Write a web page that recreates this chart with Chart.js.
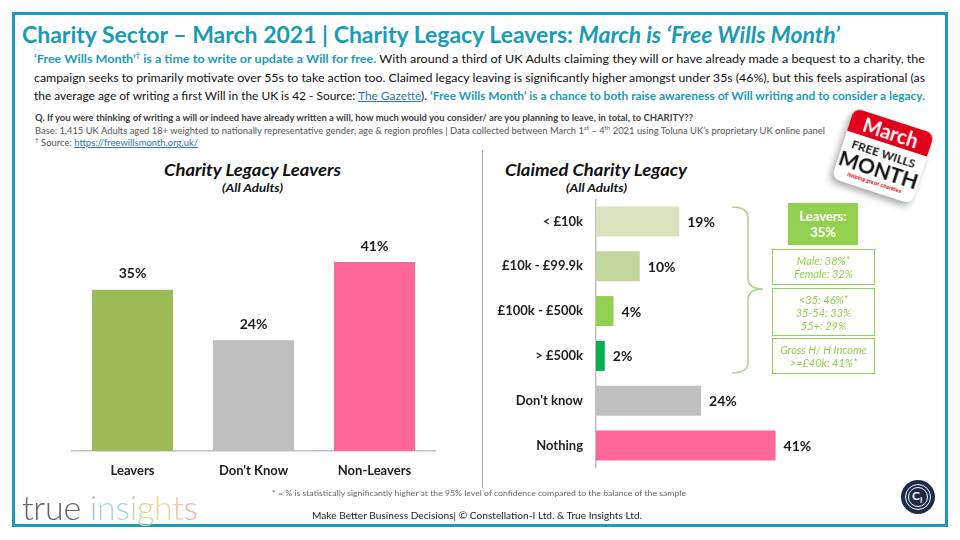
<!DOCTYPE html>
<html>
<head>
<meta charset="utf-8">
<script src="https://cdn.jsdelivr.net/npm/chart.js@4"></script>
<style>
  body { margin: 0; width: 960px; height: 540px; background: #fff; overflow: hidden; font-family: Lato, sans-serif; }
  .abs { position: absolute; white-space: nowrap; }
  .ln { font-size: 0; line-height: 1; }
  .fit { display: inline-block; transform-origin: 0 50%; }
  .teal { color: #1A9BB5; font-weight: bold; }
  #frame { position: absolute; left: 12px; top: 12px; width: 930px; height: 509px; border: 3px solid #1A9CBA; }
  .box { position: absolute; border: 1px solid #92D050; color: #92D050; font: italic 11px Lato; text-align: center; line-height: 13px; box-sizing: border-box; }
</style>
</head>
<body>
<div id="frame"></div>

<div class="abs ln" style="left:22px;top:21px;"><span class="fit" data-w="818" style="font:bold 22px Lato;color:#1A9BB5;">Charity Sector – March 2021 | Charity Legacy Leavers: <i>March is ‘Free Wills Month’</i></span></div>

<div class="abs ln" style="left:34px;top:51px;"><span class="fit" data-w="891" style="font:12px Lato;color:#111;"><span class="teal">‘Free Wills Month’<sup style="font-size:7px">†</sup> is a time to write or update a Will for free.</span> With around a third of UK Adults claiming they will or have already made a bequest to a charity, the</span></div>
<div class="abs ln" style="left:34px;top:70px;"><span class="fit" data-w="891" style="font:12px Lato;color:#111;">campaign seeks to primarily motivate over 55s to take action too. Claimed legacy leaving is significantly higher amongst under 35s (46%), but this feels aspirational (as</span></div>
<div class="abs ln" style="left:34px;top:88px;"><span class="fit" data-w="891" style="font:12px Lato;color:#111;">the average age of writing a first Will in the UK is 42 - Source: <span style="color:#2E75B6;text-decoration:underline">The Gazette</span>). <span class="teal">‘Free Wills Month’ is a chance to both raise awareness of Will writing and to consider a legacy.</span></span></div>

<div class="abs ln" style="left:35px;top:112px;"><span class="fit" data-w="658" style="font:bold 9px Lato;color:#404040;">Q. If you were thinking of writing a will or indeed have already written a will, how much would you consider/ are you planning to leave, in total, to CHARITY??</span></div>
<div class="abs ln" style="left:35px;top:124px;"><span class="fit" data-w="790" style="font:9px Lato;color:#555;">Base: 1,415 UK Adults aged 18+ weighted to nationally representative gender, age &amp; region profiles | Data collected between March 1<sup style="font-size:6px">st</sup> – 4<sup style="font-size:6px">th</sup> 2021 using Toluna UK’s proprietary UK online panel</span></div>
<div class="abs ln" style="left:35px;top:136px;"><span class="fit" data-w="163" style="font:9px Lato;color:#555;"><sup style="font-size:6px">†</sup> Source: <span style="color:#2E75B6;text-decoration:underline">https://freewillsmonth.org.uk/</span></span></div>

<!-- divider -->
<div class="abs" style="left:482px;top:150px;width:1px;height:338px;background:#A6A6A6;"></div>

<!-- left chart -->
<div class="abs ln" style="left:164px;top:159px;"><span class="fit" data-w="177" style="font:italic bold 17px Lato;color:#111;">Charity Legacy Leavers</span></div>
<div class="abs ln" style="left:222px;top:181px;"><span class="fit" data-w="61" style="font:italic bold 11px Lato;color:#111;">(All Adults)</span></div>
<div class="abs" style="left:62px;top:210px;width:383px;height:285px;"><canvas id="leftChart"></canvas></div>

<!-- right chart -->
<div class="abs ln" style="left:505px;top:159px;"><span class="fit" data-w="182" style="font:italic bold 17px Lato;color:#111;">Claimed Charity Legacy</span></div>
<div class="abs ln" style="left:566px;top:181px;"><span class="fit" data-w="61" style="font:italic bold 11px Lato;color:#111;">(All Adults)</span></div>
<div class="abs" style="left:486px;top:199px;width:340px;height:269px;"><canvas id="rightChart"></canvas></div>

<!-- brace -->
<svg class="abs" style="left:725px;top:200px;" width="45" height="180">
  <path d="M7 7 Q23 7 23 18 L23 78 Q23 89 38 89 Q23 89 23 100 L23 162 Q23 173 7 173" fill="none" stroke="#A9D18E" stroke-width="1.5"/>
</svg>

<!-- leavers boxes -->
<div class="abs" style="left:788px;top:203px;width:70px;height:42px;background:#92D050;color:#fff;font:bold 13px Lato;text-align:center;line-height:16px;padding-top:5px;box-sizing:border-box;">Leavers:<br>35%</div>
<div class="box" style="left:772px;top:249px;width:103px;height:36px;padding-top:4px;">Male: 38%*<br>Female: 32%</div>
<div class="box" style="left:772px;top:288px;width:103px;height:48px;padding-top:4px;">&lt;35: 46%*<br>35-54: 33%<br>55+: 29%</div>
<div class="box" style="left:772px;top:338px;width:103px;height:36px;padding-top:4px;">Gross H/ H Income<br>&gt;=£40k: 41%*</div>

<!-- free wills month badge -->
<div class="abs" style="left:841px;top:119px;width:84px;height:74px;transform:rotate(18deg);background:#fff;border-radius:8px;box-shadow:-2px 4px 7px rgba(0,0,0,.35);overflow:hidden;text-align:center;">
  <div style="height:24px;background:#E0001B;color:#fff;font:bold 20px Lato;line-height:25px;">March</div>
  <div style="font:bold 12px Lato;line-height:12px;margin-top:5px;color:#111;">FREE WILLS</div>
  <div style="font:bold 21px Lato;line-height:20px;color:#111;">MONTH</div>
  <div style="font:italic bold 6px Lato;line-height:8px;color:#E0001B;">helping great charities</div>
</div>

<!-- footer -->
<div class="abs" style="left:22px;top:486px;font:300 34px Lato;letter-spacing:-0.3px;"><span style="color:#666">true</span> <span style="color:#A9C4DC">i</span><span style="color:#B5D3DF">n</span><span style="color:#A8D5CF">s</span><span style="color:#BFDDB0">i</span><span style="color:#C8DD9A">g</span><span style="color:#EBDD8F">h</span><span style="color:#F2C4A4">t</span><span style="color:#F0AEB0">s</span></div>
<div class="abs ln" style="left:272px;top:488px;"><span class="fit" data-w="414" style="font:8px Lato;color:#666;">* = % is statistically significantly higher at the 95% level of confidence compared to the balance of the sample</span></div>
<div class="abs ln" style="left:312px;top:509px;"><span class="fit" data-w="330" style="font:10px Lato;color:#222;">Make Better Business Decisions| © Constellation-I Ltd. &amp; True Insights Ltd.</span></div>
<div class="abs" style="left:901px;top:480px;width:34px;height:34px;border-radius:50%;background:#1C2B4B;"></div>
<div class="abs" style="left:905px;top:484px;width:24px;height:24px;border-radius:50%;border:1px solid #fff;"></div>
<div class="abs" style="left:908px;top:487px;width:18px;height:18px;border-radius:50%;border:1px solid #fff;"></div>
<div class="abs" style="left:912px;top:488px;font:bold 12px Lato;color:#fff;">C<sub style="font-size:8px">I</sub></div>

<script>
const leaverCats = ['Leavers', "Don't Know", 'Non-Leavers']
const leaverVals = [35, 24, 41]
const leaverColors = ['#9BBB59', '#BFBFBF', '#FF6699']

const legacyCats = ['< £10k', '£10k - £99.9k', '£100k - £500k', '> £500k', "Don't know", 'Nothing']
const legacyVals = [19, 10, 4, 2, 24, 41]
const legacyColors = ['#D7E4BD', '#C3D69B', '#92D050', '#00B050', '#BFBFBF', '#FF6699']

// draw "xx%" next to each bar
const valueLabels = {
  id: 'valueLabels',
  afterDatasetsDraw(chart) {
    const ctx = chart.ctx
    const horiz = chart.options.indexAxis === 'y'
    ctx.save()
    ctx.font = 'bold 14px Lato'
    ctx.fillStyle = '#1a1a1a'
    ctx.textBaseline = 'middle'
    chart.getDatasetMeta(0).data.forEach((bar, i) => {
      const txt = chart.data.datasets[0].data[i] + '%'
      if (horiz) {
        ctx.textAlign = 'left'
        ctx.fillText(txt, bar.x + 8, bar.y + 1)
      } else {
        ctx.textAlign = 'center'
        ctx.fillText(txt, bar.x, bar.y - 16)
      }
    })
    ctx.restore()
  }
}

new Chart(document.getElementById('leftChart'), {
  type: 'bar',
  data: {
    labels: leaverCats,
    datasets: [{ data: leaverVals, backgroundColor: leaverColors, barPercentage: 0.67, categoryPercentage: 1 }]
  },
  options: {
    responsive: true,
    maintainAspectRatio: false,
    animation: false,
    layout: { padding: { left: 10, right: 10, top: 10.5 } },
    plugins: { legend: { display: false }, tooltip: { enabled: false } },
    scales: {
      x: {
        grid: { display: false, drawTicks: false },
        border: { color: '#BFBFBF', width: 1.5 },
        ticks: { color: '#222', font: { family: 'Lato', size: 13, weight: 'bold' }, padding: 12 },
        afterFit: s => { s.height = 44 }
      },
      y: { display: false, min: 0, max: 50 }
    }
  },
  plugins: [valueLabels]
})

new Chart(document.getElementById('rightChart'), {
  type: 'bar',
  data: {
    labels: legacyCats,
    datasets: [{ data: legacyVals, backgroundColor: legacyColors, barPercentage: 0.67, categoryPercentage: 1 }]
  },
  options: {
    indexAxis: 'y',
    responsive: true,
    maintainAspectRatio: false,
    animation: false,
    layout: { padding: { right: 11 } },
    plugins: { legend: { display: false }, tooltip: { enabled: false } },
    scales: {
      y: {
        grid: { display: false, drawTicks: false },
        border: { color: '#BFBFBF', width: 1.5 },
        ticks: { color: '#222', font: { family: 'Lato', size: 13, weight: 'bold' }, padding: 13 },
        afterFit: s => {
          s.width = 110
          // keep the first/last label from pushing the plot area inwards
          s.paddingTop = 0
          s.paddingBottom = 0
        }
      },
      x: { display: false, min: 0, max: 50 }
    }
  },
  plugins: [valueLabels]
})

// squeeze text lines to the widths they take in the original
function fitLines() {
  document.querySelectorAll('.fit').forEach(el => {
    el.style.transform = ''
    const s = Number(el.dataset.w) / el.getBoundingClientRect().width
    el.style.transform = `scaleX(${s})`
  })
}
fitLines()
document.fonts.ready.then(fitLines)
</script>
</body>
</html>
